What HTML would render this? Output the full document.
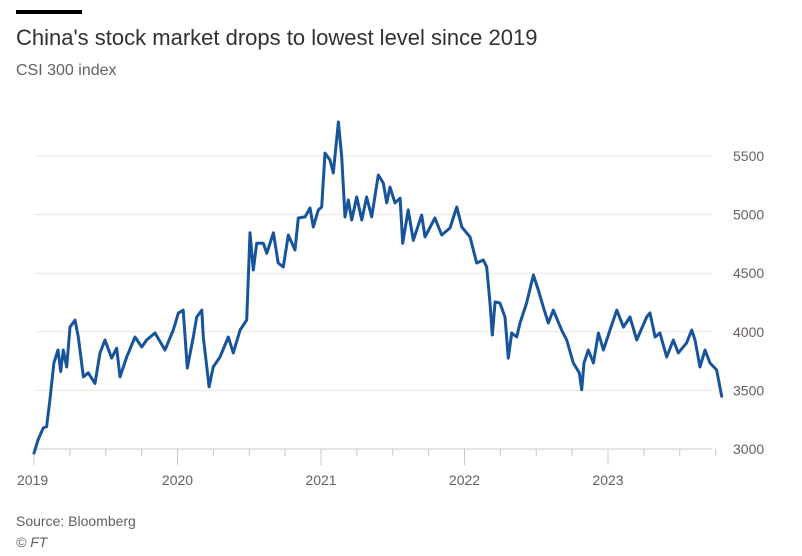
<!DOCTYPE html>
<html><head><meta charset="utf-8"><style>
body{margin:0;background:#fff;font-family:"Liberation Sans",sans-serif;}
#wrap{position:relative;width:802px;height:556px;overflow:hidden;}
.t{position:absolute;white-space:nowrap;}
</style></head><body>
<div id="wrap">
<div class="t" style="left:16px;top:10px;width:66px;height:4px;background:#000"></div>
<div class="t" style="left:16px;top:25px;font-size:22px;color:#33302e">China's stock market drops to lowest level since 2019</div>
<div class="t" style="left:16px;top:62px;font-size:16px;color:#66605c">CSI 300 index</div>
<svg id="chart" width="802" height="556" style="position:absolute;left:0;top:0"></svg>
<div class="t" style="left:16px;top:513px;font-size:14px;color:#66605c">Source: Bloomberg</div>
<div class="t" style="left:16px;top:534px;font-size:14px;color:#66605c;font-style:italic">© FT</div>
</div>
<script>
const yTicks=[3000,3500,4000,4500,5000,5500];
const xTickLabels=[2019,2020,2021,2022,2023];
const dates=[2019.000,2019.028,2019.065,2019.088,2019.111,2019.139,2019.167,2019.186,2019.204,2019.228,2019.251,2019.286,2019.309,2019.344,2019.378,2019.425,2019.460,2019.495,2019.541,2019.576,2019.599,2019.646,2019.704,2019.751,2019.785,2019.843,2019.913,2019.971,2020.006,2020.040,2020.068,2020.110,2020.134,2020.169,2020.180,2020.220,2020.249,2020.296,2020.354,2020.389,2020.436,2020.482,2020.505,2020.528,2020.552,2020.598,2020.622,2020.668,2020.702,2020.737,2020.772,2020.819,2020.842,2020.889,2020.923,2020.946,2020.981,2021.005,2021.028,2021.063,2021.086,2021.109,2021.121,2021.144,2021.167,2021.190,2021.214,2021.249,2021.284,2021.318,2021.353,2021.399,2021.434,2021.458,2021.481,2021.516,2021.551,2021.569,2021.608,2021.643,2021.702,2021.725,2021.794,2021.841,2021.899,2021.946,2021.981,2022.038,2022.085,2022.131,2022.155,2022.178,2022.194,2022.213,2022.247,2022.282,2022.305,2022.329,2022.364,2022.387,2022.433,2022.480,2022.514,2022.549,2022.584,2022.619,2022.677,2022.712,2022.758,2022.800,2022.817,2022.833,2022.863,2022.898,2022.933,2022.968,2023.014,2023.061,2023.107,2023.153,2023.200,2023.270,2023.293,2023.328,2023.362,2023.409,2023.455,2023.490,2023.548,2023.583,2023.606,2023.641,2023.676,2023.711,2023.757,2023.792];
const values=[2965,3077,3180,3190,3418,3734,3845,3660,3845,3700,4040,4100,3956,3615,3650,3560,3820,3930,3776,3860,3615,3785,3956,3870,3930,3990,3845,4015,4160,4185,3690,3956,4125,4185,3956,3530,3700,3785,3956,3820,4015,4100,4845,4527,4755,4755,4670,4845,4587,4553,4826,4698,4971,4980,5056,4894,5039,5065,5525,5466,5355,5637,5790,5492,4980,5125,4954,5150,4954,5150,4980,5338,5270,5100,5235,5100,5140,4755,5040,4780,4997,4810,4971,4826,4886,5065,4894,4810,4587,4613,4553,4246,3973,4255,4246,4126,3776,3990,3956,4075,4246,4485,4357,4212,4075,4185,4015,3930,3734,3650,3505,3734,3845,3734,3990,3845,4015,4185,4040,4126,3930,4126,4160,3956,3990,3785,3930,3820,3905,4015,3930,3700,3845,3734,3675,3450];
const NS="http://www.w3.org/2000/svg";
const svg=document.getElementById('chart');
const X0=34,XPY=143.5,Y0=449,PPU=58.6/500;
const xs=t=>X0+(t-2019)*XPY;
const ys=v=>Y0-(v-3000)*PPU;
function mk(tag,attrs){const e=document.createElementNS(NS,tag);for(const k in attrs)e.setAttribute(k,attrs[k]);svg.appendChild(e);return e;}
yTicks.forEach(v=>{
  const l=mk('line',{x1:34,x2:712,y1:ys(v),y2:ys(v),stroke:v===3000?'#cfc8c2':'#ece6e1','stroke-width':1});
  
  
  const tx=mk('text',{x:733,y:ys(v)+5,'font-size':14,fill:'#66605c','font-family':'Liberation Sans, sans-serif'});
  tx.textContent=v;
  
  
});
for(let q=0;q<20;q++){
  const t=2019+q/4;
  const big=q%4===0;
  const l=mk('line',{x1:xs(t),x2:xs(t),y1:Y0,y2:Y0+(big?16:7),stroke:'#cfc8c2','stroke-width':1});
  
  
}
xTickLabels.forEach(y=>{
  const tx=mk('text',{x:xs(y),y:485,'font-size':14,fill:'#66605c','text-anchor':y===2019?'start':'middle','font-family':'Liberation Sans, sans-serif'});
  if(y===2019)tx.setAttribute('x',xs(y)-17);
  tx.textContent=y;
  
  
});
const d=dates.map((t,i)=>(i?'L':'M')+xs(t).toFixed(1)+','+ys(values[i]).toFixed(1)).join('');
const p=mk('path',{d:d,fill:'none',stroke:'#17549b','stroke-width':3,'stroke-linejoin':'round','stroke-linecap':'round'});


</script>
</body></html>
